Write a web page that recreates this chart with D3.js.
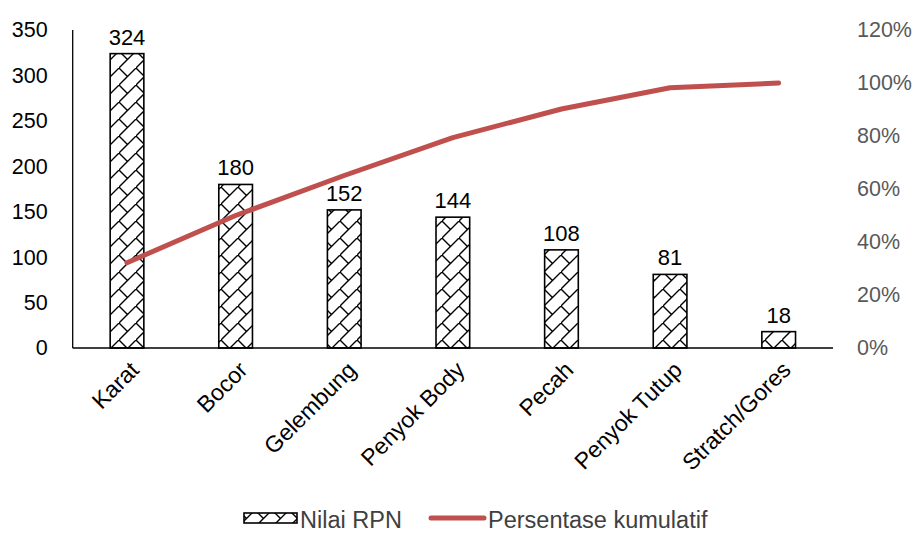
<!DOCTYPE html>
<meta charset="utf-8">
<style type="text/css">
body {
  margin: 0;
  font-family: "Liberation Sans", Arial, sans-serif;
  background: #fff;
}
.axis text {
  font-size: 21.5px;
}
.x.axis text {
  font-size: 23px;
}
.axis path,
.axis line {
  fill: none;
  stroke: #000;
  stroke-width: 1.3px;
}
.value-label {
  font-size: 22px;
  fill: #000;
}
.legend text {
  font-size: 23.5px;
  fill: #404040;
}
</style>
<body>
<script src="https://cdnjs.cloudflare.com/ajax/libs/d3/7.8.5/d3.min.js"></script>
<script>
// data
var categories = ["Karat", "Bocor", "Gelembung", "Penyok Body", "Pecah", "Penyok Tutup", "Stratch/Gores"];
var rpn = [324, 180, 152, 144, 108, 81, 18];
var cumulative = [32.2, 50.0, 65.1, 79.4, 90.2, 98.2, 100];
var leftTicks = [0, 50, 100, 150, 200, 250, 300, 350];
var rightTicks = [0, 20, 40, 60, 80, 100, 120];

var width = 915, height = 533;
var plot = { left: 72.7, right: 833, top: 30, bottom: 348 };

var svg = d3.select("body")
  .append("svg")
    .attr("width", width)
    .attr("height", height);

// shingle-like hatch used for the bars
var defs = svg.append("defs");
var pat = defs.append("pattern")
    .attr("id", "shingle")
    .attr("patternUnits", "userSpaceOnUse")
    .attr("width", 17)
    .attr("height", 17);
pat.append("rect").attr("width", 17).attr("height", 17).attr("fill", "#fff");
pat.append("path")
    .attr("d", "M-1,18 L18,-1 M0,0 L8.5,8.5")
    .attr("stroke", "#000")
    .attr("stroke-width", 1.4)
    .attr("fill", "none");

var x = d3.scaleBand()
  .domain(categories)
  .range([plot.left, plot.right])
  .paddingInner(0.69)
  .paddingOuter(0.345);

var y = d3.scaleLinear()
  .domain([0, 350])
  .range([plot.bottom, plot.top]);

var y2 = d3.scaleLinear()
  .domain([0, 120])
  .range([plot.bottom, plot.top]);

// left axis
var yAxis = d3.axisLeft(y)
  .tickValues(leftTicks)
  .tickSize(0)
  .tickPadding(25);

svg.append("g")
  .attr("class", "y axis")
  .attr("transform", "translate(" + plot.left + ",0)")
  .call(yAxis)
  .call(function(g) {
    g.select(".domain").attr("d", "M0," + plot.top + "V" + plot.bottom);
    g.selectAll("text").attr("fill", "#000");
  });

// right axis (labels only)
var y2Axis = d3.axisRight(y2)
  .tickValues(rightTicks)
  .tickSize(0)
  .tickPadding(24)
  .tickFormat(function(d) { return d + "%"; });

svg.append("g")
  .attr("class", "y2 axis")
  .attr("transform", "translate(" + plot.right + ",0)")
  .call(y2Axis)
  .call(function(g) {
    g.select(".domain").remove();
    g.selectAll("text").attr("fill", "#595959");
  });

// bars
svg.selectAll("rect.bar")
  .data(rpn)
  .enter().append("rect")
    .attr("class", "bar")
    .attr("x", function(d, i) { return x(categories[i]); })
    .attr("y", function(d) { return y(d); })
    .attr("width", x.bandwidth())
    .attr("height", function(d) { return y(0) - y(d); })
    .attr("fill", "url(#shingle)")
    .attr("stroke", "#000")
    .attr("stroke-width", 1.6);

// bottom axis
var xAxis = d3.axisBottom(x)
  .tickSize(0)
  .tickPadding(0);

svg.append("g")
  .attr("class", "x axis")
  .attr("transform", "translate(0," + plot.bottom + ")")
  .call(xAxis)
  .call(function(g) {
    g.select(".domain").attr("d", "M" + plot.left + ",0H" + plot.right);
    g.selectAll("text")
      .attr("fill", "#000")
      .attr("text-anchor", "end")
      .attr("dy", "0.7em")
      .attr("transform", "translate(2,12) rotate(-45)");
  });

// value labels
svg.selectAll("text.value-label")
  .data(rpn)
  .enter().append("text")
    .attr("class", "value-label")
    .attr("x", function(d, i) { return x(categories[i]) + x.bandwidth() / 2; })
    .attr("y", function(d) { return y(d) - 9; })
    .attr("text-anchor", "middle")
    .text(function(d) { return d; });

// cumulative line
var line = d3.line()
  .x(function(d, i) { return x(categories[i]) + x.bandwidth() / 2; })
  .y(function(d) { return y2(d); });

svg.append("path")
  .datum(cumulative)
  .attr("d", line)
  .attr("fill", "none")
  .attr("stroke", "#c0504d")
  .attr("stroke-width", 5)
  .attr("stroke-linecap", "round")
  .attr("stroke-linejoin", "round");

// legend
var legend = svg.append("g").attr("class", "legend");

legend.append("rect")
  .attr("x", 244)
  .attr("y", 513)
  .attr("width", 53)
  .attr("height", 10)
  .attr("fill", "url(#shingle)")
  .attr("stroke", "#000")
  .attr("stroke-width", 1.6);

legend.append("text")
  .attr("x", 300)
  .attr("y", 528)
  .text("Nilai RPN");

legend.append("line")
  .attr("x1", 431)
  .attr("x2", 484)
  .attr("y1", 518)
  .attr("y2", 518)
  .attr("stroke", "#c0504d")
  .attr("stroke-width", 5)
  .attr("stroke-linecap", "round");

legend.append("text")
  .attr("x", 488)
  .attr("y", 528)
  .text("Persentase kumulatif");
</script>
</body>
